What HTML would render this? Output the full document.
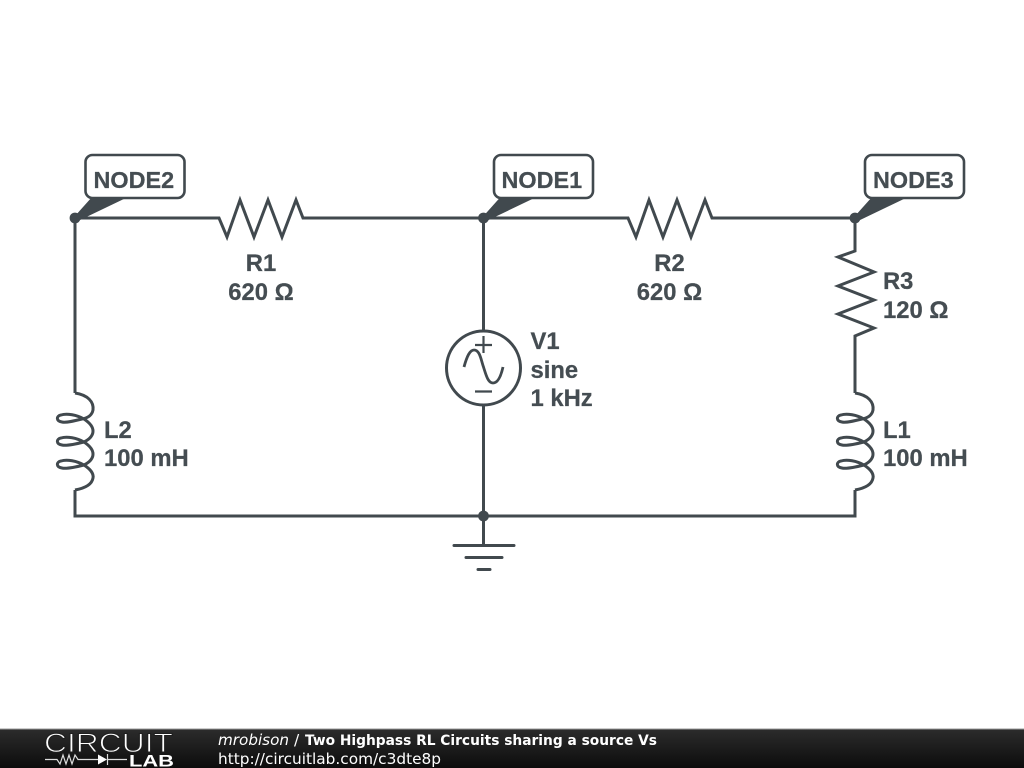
<!DOCTYPE html>
<html>
<head>
<meta charset="utf-8">
<style>
html,body{margin:0;padding:0;background:#fff;width:1024px;height:768px;overflow:hidden}
svg{display:block}
.l{font-family:"Liberation Sans",sans-serif;font-weight:bold;font-size:23.8px;fill:#454d52;stroke:#454d52;stroke-width:.25px}
.n{font-family:"Liberation Sans",sans-serif;font-weight:bold;font-size:23.4px;fill:#454d52;stroke:#454d52;stroke-width:.25px}
.f{font-family:"DejaVu Sans",sans-serif;font-size:15.4px;fill:#fff}
</style>
</head>
<body>
<svg width="1024" height="768" viewBox="0 0 1024 768" xmlns="http://www.w3.org/2000/svg">
<defs>
<linearGradient id="g" x1="0" y1="0" x2="0" y2="1">
<stop offset="0" stop-color="#2c2c2c"/><stop offset="1" stop-color="#0c0c0c"/>
</linearGradient>
</defs>
<rect width="1024" height="768" fill="#fff"/>
<g fill="none" stroke="#41494e" stroke-width="3" stroke-linejoin="miter">
<path d="M75 218H219L227 237L240 200L254 237L268 200L282 237L296 200L303 218H483H628L636 237L649 200L663 237L677 200L691 237L705 200L712 218H855"/>
<path d="M75 218V393"/>
<path d="M75 490V516H855V490"/>
<path d="M855 218V251L838 257L874 272L838 286L874 300L838 314L874 328L855 336V393"/>
<path d="M483.500 218V331"/>
<path d="M483.500 405V545"/>
<circle cx="483.500" cy="368" r="37"/>
<path d="M454 545.500H514" stroke-linecap="round"/>
<path d="M466 557.500H502" stroke-linecap="round"/>
<path d="M478 569.500H490" stroke-linecap="round"/>
</g>
<g fill="none" stroke="#41494e" stroke-width="2.200">
<path d="M475 345H492M483.500 336V353"/>
<path d="M475 391.500H492"/>
<path d="M464 367C467 356 470 350 474 350C480 350 481 360 483.500 367C486 375 488 383 493 383C498 383 501 376 503 367" stroke-width="2.800"/>
</g>
<g fill="none" stroke="#41494e" stroke-width="3">
<path d="M75 393C88 395 94 402 93 410C92 415 88 418 82 419C74 421 66 423 62 422C56 421 56 416 61 415C67 413 77 415 84 419C90 423 93 427 93 431C93 435 90 439 84 442C76 444 66 446 62 445C56 444 56 439 61 438C67 436 77 438 84 442C90 446 93 450 93 454C93 458 90 462 84 465C76 467 66 469 62 468C56 467 56 462 61 461C67 459 77 461 84 465C90 469 94 473 93 478C92 484 86 488 75 490"/>
<path d="M855 393C868 395 874 402 873 410C872 415 868 418 862 419C854 421 846 423 842 422C836 421 836 416 841 415C847 413 857 415 864 419C870 423 873 427 873 431C873 435 870 439 864 442C856 444 846 446 842 445C836 444 836 439 841 438C847 436 857 438 864 442C870 446 873 450 873 454C873 458 870 462 864 465C856 467 846 469 842 468C836 467 836 462 841 461C847 459 857 461 864 465C870 469 874 473 873 478C872 484 866 488 855 490"/>
</g>
<g fill="#41494e">
<circle cx="75" cy="218" r="5.400"/>
<circle cx="483.500" cy="218" r="5.400"/>
<circle cx="855" cy="218" r="5.400"/>
<circle cx="483.500" cy="516" r="5.400"/>
</g>
<g fill="#fff" stroke="#41494e" stroke-width="2.600">
<rect x="85.500" y="155" width="99" height="43" rx="7"/>
<rect x="494" y="155" width="99" height="43" rx="7"/>
<rect x="865" y="155" width="99" height="43" rx="7"/>
</g>
<g fill="#41494e">
<path d="M75 216L92 197H128L78 221Z"/>
<path d="M483.500 216L500.500 197H536.500L486.500 221Z"/>
<path d="M855 216L872 197H908L858 221Z"/>
</g>
<text class="n" x="93.500" y="188">NODE2</text>
<text class="n" x="501.500" y="188">NODE1</text>
<text class="n" x="873" y="188">NODE3</text>
<text class="l" x="261" y="271" text-anchor="middle">R1</text>
<text class="l" x="261" y="300" text-anchor="middle">620 Ω</text>
<text class="l" x="669.500" y="271" text-anchor="middle">R2</text>
<text class="l" x="669.500" y="300" text-anchor="middle">620 Ω</text>
<text class="l" x="883" y="289">R3</text>
<text class="l" x="883" y="318">120 Ω</text>
<text class="l" x="530.500" y="349">V1</text>
<text class="l" x="530.500" y="378">sine</text>
<text class="l" x="530.500" y="406">1 kHz</text>
<text class="l" x="104" y="438">L2</text>
<text class="l" x="104" y="466">100 mH</text>
<text class="l" x="883" y="438">L1</text>
<text class="l" x="883" y="466">100 mH</text>
<rect x="0" y="729" width="1024" height="39" fill="url(#g)"/>
<rect x="0" y="728.500" width="1024" height="1" fill="#9a9a9a"/>
<text x="44" y="752" font-family="Liberation Sans,sans-serif" font-size="26.500" fill="#fff" stroke="#1f1f1f" stroke-width="1" textLength="129" lengthAdjust="spacingAndGlyphs">CIRCUIT</text>
<text x="129" y="766.500" font-family="Liberation Sans,sans-serif" font-size="16.500" font-weight="bold" fill="#fff" textLength="45" lengthAdjust="spacingAndGlyphs">LAB</text>
<g fill="none" stroke="#ddd" stroke-width="1.200">
<path d="M45 759.500H57L60 764L63 755L66 764L69 755L72 764L75 755L78 759.500H98M107 759.500H127"/>
<path d="M107.500 754V765"/>
</g>
<path d="M98 754.500L107 759.500L98 764.500Z" fill="#fff"/>
<text class="f" x="218" y="745" font-style="italic" textLength="71" lengthAdjust="spacingAndGlyphs">mrobison</text>
<text class="f" x="294" y="745">/</text>
<text class="f" x="305" y="745" style="font-size:14px;font-weight:bold" textLength="352" lengthAdjust="spacingAndGlyphs">Two Highpass RL Circuits sharing a source Vs</text>
<text class="f" x="218" y="764" textLength="223" lengthAdjust="spacingAndGlyphs">http://circuitlab.com/c3dte8p</text>
</svg>
</body>
</html>
